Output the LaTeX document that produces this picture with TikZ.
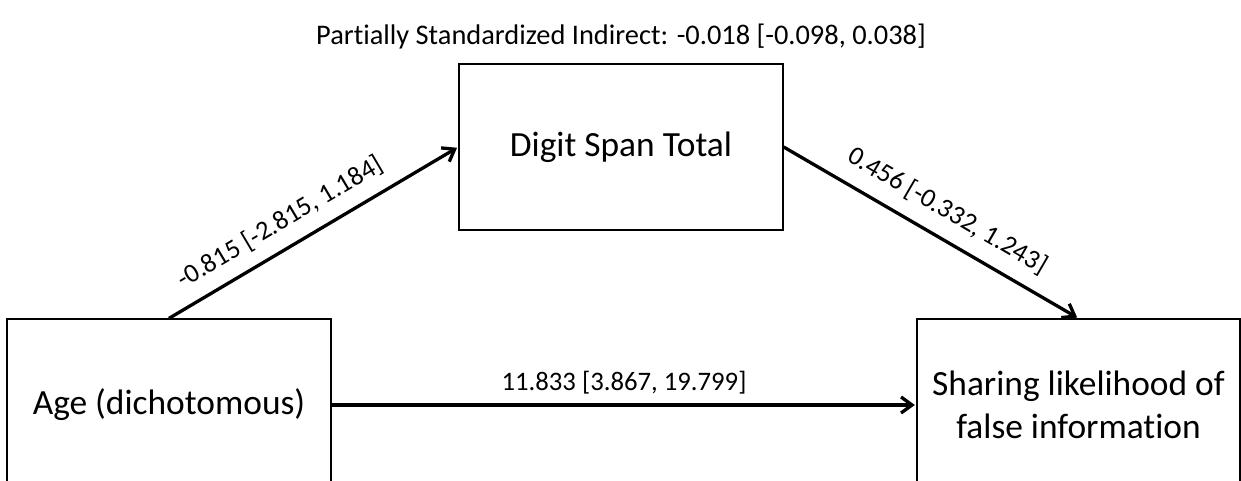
\documentclass[tikz,border=0pt]{standalone}
\usepackage{fontspec}
\setmainfont{Carlito}[Ligatures=NoCommon]
\usetikzlibrary{arrows.meta}
\begin{document}
\begin{tikzpicture}[x=1pt,y=-1pt,
  varbox/.style={draw=black, line width=1.3pt, fill=white, align=center,
    inner sep=0pt, font=\fontsize{35.4}{43}\selectfont},
  path/.style={line width=3.3pt, -{Straight Barb[length=11pt,width=16pt,line width=3.3pt]}, shorten >=1.5pt},
  coef/.style={font=\fontsize{26.7}{32}\selectfont, inner sep=0pt}]
\useasboundingbox (0,0) rectangle (1241,481);

% variables
\node[varbox, minimum width=324pt, minimum height=166pt] (digit) at (621,147) {Digit Span Total};
\node[varbox, minimum width=324pt, minimum height=172pt] (age) at (169,405) {Age (dichotomous)};
\node[varbox, minimum width=323pt, minimum height=172pt] (share) at (1078.5,405) {Sharing likelihood of\\false information};

% paths with estimates
\draw[path] (age.north) -- (digit.west)
  node[coef, pos=0.43, sloped, above=13pt] (a) {-0.815 [-2.815, 1.184]};
\draw[path] (digit.east) -- (share.north)
  node[coef, pos=0.51, sloped, above=14pt] (b) {0.456 [-0.332, 1.243]};
\draw[path] (age.east) -- (share.west)
  node[coef, midway, above=9pt] (c) {11.833 [3.867, 19.799]};

% indirect effect
\node[coef, font=\fontsize{28.4}{34}\selectfont] (ind) at (621,37) {Partially Standardized Indirect: -0.018 [-0.098, 0.038]};
\end{tikzpicture}
\end{document}
